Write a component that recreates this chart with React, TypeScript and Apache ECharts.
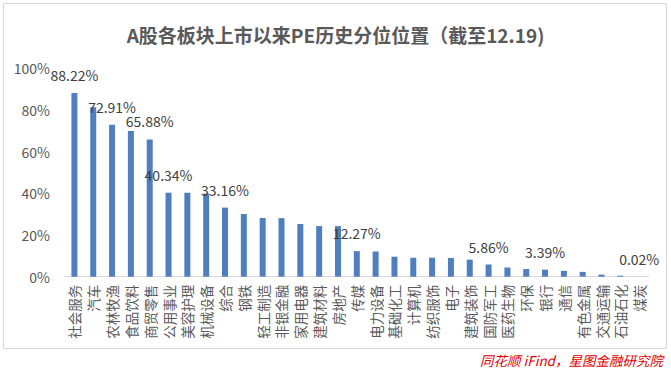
import React, { useEffect, useRef } from "react";
import * as echarts from "echarts";

const TITLE = "A股各板块上市以来PE历史分位位置（截至12.19)";
const SOURCE = "同花顺 iFind，星图金融研究院";

const categories = [
  "社会服务", "汽车", "农林牧渔", "食品饮料", "商贸零售", "公用事业", "美容护理", "机械设备",
  "综合", "钢铁", "轻工制造", "非银金融", "家用电器", "建筑材料", "房地产", "传媒",
  "电力设备", "基础化工", "计算机", "纺织服饰", "电子", "建筑装饰", "国防军工", "医药生物",
  "环保", "银行", "通信", "有色金属", "交通运输", "石油石化", "煤炭",
];

const values = [
  88.22, 81.4, 72.91, 69.9, 65.88, 40.34, 40.3, 39.9,
  33.16, 30.1, 28.2, 28.1, 25.3, 24.3, 24.3, 12.27,
  12.1, 9.6, 9.1, 9.1, 9.0, 8.2, 5.86, 4.4,
  3.7, 3.39, 2.8, 2.3, 1.0, 0.5, 0.02,
];

const labeledCategories = [
  "社会服务", "农林牧渔", "商贸零售", "公用事业", "综合", "传媒", "国防军工", "银行", "煤炭",
];

const yTicks = [0, 20, 40, 60, 80, 100];

export default function App() {
  const ref = useRef<HTMLDivElement>(null);

  useEffect(() => {
    document.body.style.margin = "0";
    if (!ref.current) return;
    const chart = echarts.init(ref.current, undefined, { renderer: "svg" });
    const font = "'Noto Sans CJK SC', 'Microsoft YaHei', sans-serif";
    chart.setOption({
      animation: false,
      backgroundColor: "#ffffff",
      textStyle: { fontFamily: font },
      title: {
        text: TITLE,
        left: "center",
        top: 20,
        textStyle: { fontSize: 19, fontWeight: "bold", color: "#595959", fontFamily: font },
      },
      graphic: [
        {
          type: "rect",
          shape: { x: 3.5, y: 3.5, width: 663, height: 345 },
          style: { fill: "none", stroke: "#d9d9d9", lineWidth: 1 },
          silent: true,
        },
        {
          type: "text",
          x: 663,
          y: 352,
          style: {
            text: SOURCE,
            fill: "#e00000",
            fontSize: 13.5,
            lineHeight: 16,
            fontStyle: "italic",
            fontFamily: font,
            align: "right",
            verticalAlign: "top",
          },
        },
      ],
      grid: { left: 65, right: 22.4, top: 68.4, bottom: 93.3, containLabel: false },
      xAxis: {
        type: "category",
        data: categories,
        axisTick: { show: false },
        axisLine: { lineStyle: { color: "#d9d9d9" } },
        axisLabel: {
          interval: 0,
          rotate: 90,
          margin: 8,
          fontSize: 13.5,
          color: "#595959",
          fontFamily: font,
        },
      },
      yAxis: {
        type: "value",
        min: yTicks[0],
        max: yTicks[yTicks.length - 1],
        interval: 20,
        axisLine: { show: false },
        axisTick: { show: false },
        splitLine: { show: false },
        axisLabel: {
          formatter: "{value}%",
          fontSize: 14,
          color: "#595959",
          margin: 15,
          fontFamily: font,
        },
      },
      series: [
        {
          type: "bar",
          barWidth: 6,
          itemStyle: { color: "#4f7fbf" },
          data: categories.map((c, i) => ({
            value: values[i],
            label: {
              show: labeledCategories.includes(c),
              position: "top",
              distance: 11,
              fontSize: 14,
              color: "#404040",
              fontFamily: font,
              formatter: (p: any) => `${Number(p.value).toFixed(2)}%`,
            },
          })),
        },
      ],
    });
    return () => chart.dispose();
  }, []);

  return <div ref={ref} style={{ width: 671, height: 370 }} />;
}
